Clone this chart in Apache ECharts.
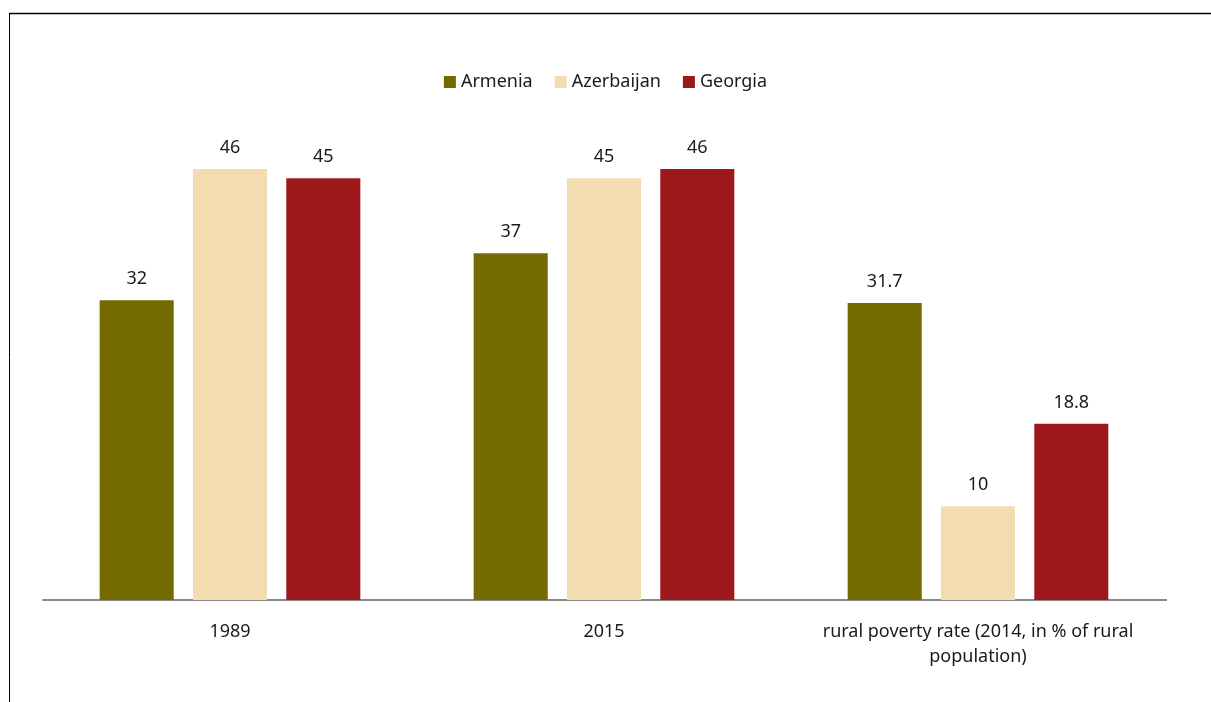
<!DOCTYPE html>
<html>
<head>
<meta charset="utf-8">
<script src="https://cdn.jsdelivr.net/npm/echarts@6/dist/echarts.min.js"></script>
<style>
html,body{margin:0;padding:0;background:#fff;}
#chart{width:1211px;height:702px;}
</style>
</head>
<body>
<div id="chart"></div>
<script>
const categories = ['1989', '2015', 'rural poverty rate (2014, in % of rural\npopulation)'];
const seriesNames = ['Armenia', 'Azerbaijan', 'Georgia'];
const armenia = [32, 37, 31.7];
const azerbaijan = [46, 45, 10];
const georgia = [45, 46, 18.8];
const colors = ['#736a00', '#f3dcb0', '#9e191c'];

const font = '"Noto Sans", "Open Sans", sans-serif';
const chart = echarts.init(document.getElementById('chart'));
const mk = (name, data, color) => ({
  name, type: 'bar', data,
  barWidth: '19.8%', barGap: '26%',
  itemStyle: { color },
  label: { show: true, position: 'top', distance: 12, color: '#1a1a1a', fontSize: 18, fontFamily: font }
});
chart.setOption({
  animation: false,
  color: colors,
  legend: {
    top: 68, left: 'center', itemWidth: 12, itemHeight: 12, itemGap: 22,
    icon: 'rect',
    textStyle: { fontSize: 18, fontFamily: font, color: '#1a1a1a' }
  },
  grid: { left: 43, right: 46, top: 131.5, bottom: 102, containLabel: false },
  xAxis: {
    type: 'category', data: categories,
    axisLine: { lineStyle: { color: '#8a8a8a', width: 2 } },
    axisTick: { show: false },
    axisLabel: { fontSize: 18, fontFamily: font, color: '#1a1a1a', margin: 19, lineHeight: 25, interval: 0 }
  },
  yAxis: { type: 'value', min: 0, max: 50, show: false, splitLine: { show: false } },
  series: [mk(seriesNames[0], armenia, colors[0]), mk(seriesNames[1], azerbaijan, colors[1]), mk(seriesNames[2], georgia, colors[2])],
  graphic: [
    { type: 'line', shape: { x1: 1165, y1: 600, x2: 1167, y2: 600 }, style: { stroke: '#8a8a8a', lineWidth: 2 } },
    { type: 'line', shape: { x1: 9, y1: 13.5, x2: 1211, y2: 13.5 }, style: { stroke: '#000', lineWidth: 1.5 } },
    { type: 'line', shape: { x1: 9.5, y1: 13, x2: 9.5, y2: 702 }, style: { stroke: '#000', lineWidth: 1 } }
  ]
});
</script>
</body>
</html>
